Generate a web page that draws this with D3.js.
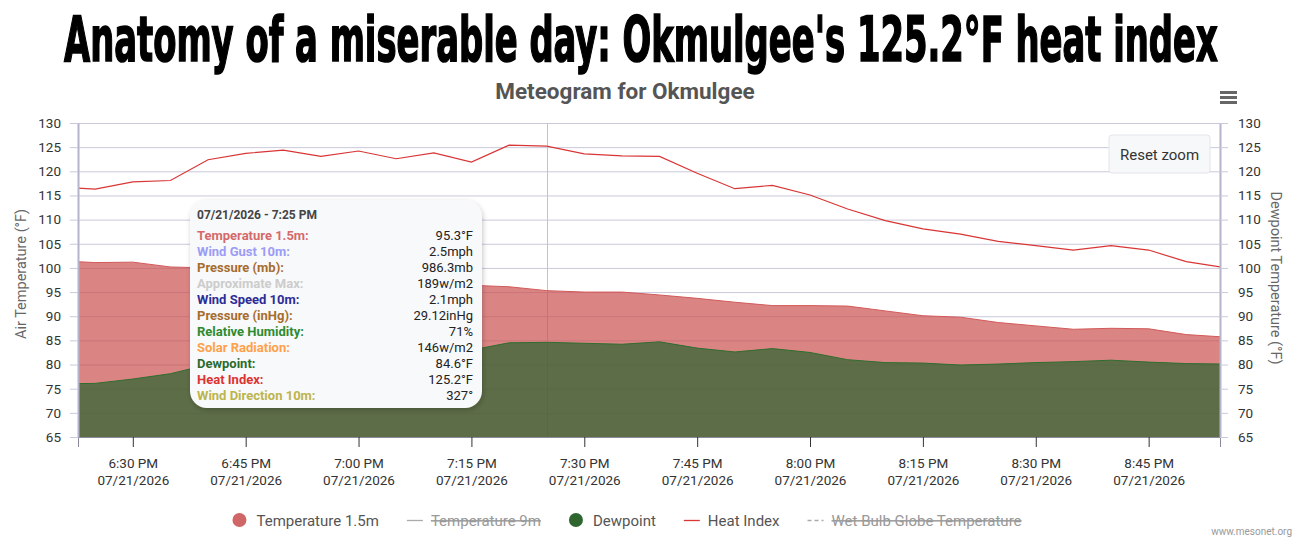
<!DOCTYPE html>
<html>
<head>
<meta charset="utf-8">
<script src="https://d3js.org/d3.v7.min.js"></script>
<style>
  html, body { margin: 0; padding: 0; background: #fff; }
  svg { display: block; font-family: Roboto, "Noto Sans", sans-serif; }
</style>
</head>
<body>
<div id="chart"></div>
<script>
// Data (5 minute obs, 07/21/2026)
const times = ["18:20","18:25","18:30","18:35","18:40","18:45","18:50","18:55",
               "19:00","19:05","19:10","19:15","19:20","19:25","19:30","19:35",
               "19:40","19:45","19:50","19:55","20:00","20:05","20:10","20:15",
               "20:20","20:25","20:30","20:35","20:40","20:45","20:50","20:55"];
const temperature = [101.5,101.1,101.2,100.2,100.0,99.6,99.1,98.6,
                     98.0,97.5,97.0,96.4,96.1,95.3,95.0,95.0,
                     94.4,93.7,92.9,92.2,92.2,92.1,91.1,90.1,
                     89.8,88.7,88.0,87.3,87.5,87.4,86.2,85.7];
const dewpoint = [76.0,76.1,77.0,78.1,80.0,80.8,81.3,81.0,
                  81.6,81.5,82.2,83.0,84.5,84.6,84.4,84.2,
                  84.7,83.4,82.6,83.3,82.5,81.0,80.4,80.3,
                  79.9,80.1,80.4,80.6,80.9,80.5,80.2,80.1];
const heatIndex = [116.8,116.3,117.8,118.1,122.4,123.7,124.4,123.1,
                   124.2,122.6,123.8,121.9,125.4,125.2,123.6,123.2,
                   123.1,119.6,116.4,117.1,115.1,112.2,109.8,108.1,
                   107.0,105.5,104.6,103.7,104.6,103.7,101.3,100.1];
const yTicks = [65,70,75,80,85,90,95,100,105,110,115,120,125,130];

// Tooltip contents at 7:25 PM
const tipTime = "19:25";
const tipLabels = ["Temperature 1.5m:","Wind Gust 10m:","Pressure (mb):","Approximate Max:",
                   "Wind Speed 10m:","Pressure (inHg):","Relative Humidity:","Solar Radiation:",
                   "Dewpoint:","Heat Index:","Wind Direction 10m:"];
const tipValues = ["95.3°F","2.5mph","986.3mb","189w/m2","2.1mph","29.12inHg","71%",
                   "146w/m2","84.6°F","125.2°F","327°"];
const tipColors = ["#d46a6a","#9c9cf5","#a66d2e","#cccccc","#2d2d96","#a66d2e","#2f8a2f",
                   "#ffa04a","#2d6a2d","#dd3333","#bdb44e"];

// Legend
const legendNames = ["Temperature 1.5m","Temperature 9m","Dewpoint","Heat Index","Wet Bulb Globe Temperature"];

const width = 1306, height = 539;
const margin = { top: 123, right: 86, bottom: 102, left: 78 };

const parse = t => { const [h, m] = t.split(":").map(Number); return new Date(2026, 6, 21, h, m); };
const data = times.map((t, i) => ({ t: parse(t), temp: temperature[i], dew: dewpoint[i], hi: heatIndex[i] }));

const svg = d3.select("#chart").append("svg")
    .attr("width", width)
    .attr("height", height);
const defs = svg.append("defs");

// Zoomed window (6:22:43 PM to 8:54:29 PM)
const x = d3.scaleTime()
    .domain([new Date(2026, 6, 21, 18, 22, 43), new Date(2026, 6, 21, 20, 54, 29)])
    .range([margin.left, width - margin.right]);
const y = d3.scaleLinear()
    .domain([65, 130])
    .range([height - margin.bottom, margin.top]);

// Headline: condensed heavy face, stretched to fill the width
const title = svg.append("text")
    .attr("font-family", "Impact, 'Liberation Sans Narrow', 'DejaVu Sans Condensed', sans-serif")
    .attr("font-weight", "bold")
    .attr("font-size", 58)
    .attr("fill", "#000")
    .attr("stroke", "#000")
    .attr("stroke-width", 1.5)
    .text("Anatomy of a miserable day: Okmulgee's 125.2°F heat index");
const tw = title.node().getComputedTextLength();
title.attr("transform", `translate(64,61) scale(${1154 / tw},1.08)`);

svg.append("text")
    .attr("x", 625).attr("y", 99)
    .attr("text-anchor", "middle")
    .attr("font-weight", "bold")
    .attr("font-size", 22.5)
    .attr("fill", "#555")
    .text("Meteogram for Okmulgee");

// hamburger menu
svg.append("g").attr("fill", "#666")
  .selectAll("rect").data([0, 1, 2]).join("rect")
    .attr("x", 1220).attr("y", d => 91 + d * 5)
    .attr("width", 17).attr("height", 3);

// Grid
svg.append("g")
  .selectAll("line").data(yTicks).join("line")
    .attr("x1", margin.left).attr("x2", width - margin.right)
    .attr("y1", d => y(d) + 0.5).attr("y2", d => y(d) + 0.5)
    .attr("stroke", "#c9c9dc");

// Crosshair at hovered point (under the translucent areas)
const tipDate = parse(tipTime);
svg.append("line")
    .attr("x1", Math.round(x(tipDate)) + 0.5).attr("x2", Math.round(x(tipDate)) + 0.5)
    .attr("y1", margin.top).attr("y2", height - margin.bottom)
    .attr("stroke", "#c4c4c4");

defs.append("clipPath").attr("id", "plot")
  .append("rect")
    .attr("x", margin.left).attr("y", margin.top)
    .attr("width", width - margin.left - margin.right)
    .attr("height", height - margin.top - margin.bottom);

const series = svg.append("g").attr("clip-path", "url(#plot)");

const tempArea = d3.area().x(d => x(d.t)).y0(y(65)).y1(d => y(d.temp));
const dewArea = d3.area().x(d => x(d.t)).y0(y(65)).y1(d => y(d.dew));

series.append("path").datum(data)
    .attr("d", tempArea)
    .attr("fill", "#cc5050").attr("fill-opacity", 0.7);
series.append("path").datum(data)
    .attr("d", d3.line().x(d => x(d.t)).y(d => y(d.temp)))
    .attr("fill", "none").attr("stroke", "#d25a5a").attr("stroke-width", 1);

series.append("path").datum(data)
    .attr("d", dewArea)
    .attr("fill", "#336633").attr("fill-opacity", 0.75);
series.append("path").datum(data)
    .attr("d", d3.line().x(d => x(d.t)).y(d => y(d.dew)))
    .attr("fill", "none").attr("stroke", "#2e6e2e").attr("stroke-width", 1);

series.append("path").datum(data)
    .attr("d", d3.line().x(d => x(d.t)).y(d => y(d.hi)))
    .attr("fill", "none").attr("stroke", "#d93535").attr("stroke-width", 1.2);

// Axes
const fmtTime = d3.timeFormat("%-I:%M %p");
const fmtDate = d3.timeFormat("%m/%d/%Y");

const xAxis = svg.append("g")
    .attr("transform", `translate(0,${height - margin.bottom})`)
    .call(d3.axisBottom(x).ticks(d3.timeMinute.every(15)).tickSize(10).tickFormat(""));
xAxis.select(".domain").attr("stroke", "#8a8a9a").attr("stroke-width", 1);
xAxis.selectAll(".tick line").attr("stroke", "#333");
xAxis.selectAll(".tick text").remove();
xAxis.selectAll(".tick").append("text")
    .attr("fill", "#333").attr("font-size", 13.5).attr("text-anchor", "middle")
    .attr("font-family", "Roboto, sans-serif")
    .call(t => t.append("tspan").attr("x", 0).attr("y", 31).text(d => fmtTime(d)))
    .call(t => t.append("tspan").attr("x", 0).attr("y", 48).text(d => fmtDate(d)));

const yLeft = svg.append("g")
    .attr("transform", `translate(${margin.left},0)`)
    .call(d3.axisLeft(y).tickValues(yTicks).tickSize(8).tickPadding(9).tickSizeOuter(0));
const yRight = svg.append("g")
    .attr("transform", `translate(${width - margin.right},0)`)
    .call(d3.axisRight(y).tickValues(yTicks).tickSize(8).tickPadding(10).tickSizeOuter(0));
[yLeft, yRight].forEach(a => {
    a.select(".domain").attr("stroke", "#b4b4cc").attr("stroke-width", 2);
    a.selectAll(".tick line").attr("stroke", "#c9c9dc");
    a.selectAll(".tick text").attr("fill", "#333").attr("font-size", 13.5)
        .attr("font-family", "Roboto, sans-serif");
});

svg.append("text")
    .attr("transform", "translate(26,274) rotate(-90)")
    .attr("text-anchor", "middle").attr("font-size", 14.5).attr("fill", "#666")
    .text("Air Temperature (°F)");
svg.append("text")
    .attr("transform", "translate(1271,278) rotate(90)")
    .attr("text-anchor", "middle").attr("font-size", 14.5).attr("fill", "#666")
    .text("Dewpoint Temperature (°F)");

// Reset zoom button
const btn = svg.append("g").attr("transform", "translate(1109,135)");
btn.append("rect")
    .attr("width", 101).attr("height", 38).attr("rx", 3)
    .attr("fill", "#f7f8fa").attr("stroke", "#e2e4ea");
btn.append("text")
    .attr("x", 50.5).attr("y", 24.5).attr("text-anchor", "middle")
    .attr("font-size", 15).attr("fill", "#333")
    .text("Reset zoom");

// Tooltip
const shadow = defs.append("filter").attr("id", "shadow")
    .attr("x", "-10%").attr("y", "-10%").attr("width", "120%").attr("height", "125%");
shadow.append("feDropShadow")
    .attr("dx", 1).attr("dy", 2).attr("stdDeviation", 2.5)
    .attr("flood-color", "#000").attr("flood-opacity", 0.22);

const tip = svg.append("g").attr("transform", "translate(190,200)");
tip.append("rect")
    .attr("width", 292).attr("height", 208).attr("rx", 17)
    .attr("fill", "#f8f9fa").attr("filter", "url(#shadow)");
tip.append("text")
    .attr("x", 7).attr("y", 19)
    .attr("font-size", 12).attr("font-weight", "bold").attr("fill", "#444")
    .text(d3.timeFormat("%m/%d/%Y - %-I:%M %p")(tipDate));
const rows = tip.selectAll("g.row").data(tipLabels).join("g")
    .attr("class", "row")
    .attr("transform", (d, i) => `translate(0,${40 + i * 16})`);
rows.append("text")
    .attr("x", 7).attr("font-size", 13).attr("font-weight", "bold")
    .attr("fill", (d, i) => tipColors[i])
    .text(d => d);
rows.append("text")
    .attr("x", 283).attr("text-anchor", "end").attr("font-size", 13).attr("fill", "#222")
    .text((d, i) => tipValues[i]);

// Legend (items 9m and wet bulb are switched off)
const legend = svg.append("g").attr("font-size", 15);
const items = legend.selectAll("g").data(legendNames).join("g");
items.append("text")
    .attr("x", 24).attr("y", 5.5)
    .attr("fill", (d, i) => (i === 1 || i === 4) ? "#999" : "#555")
    .attr("text-decoration", (d, i) => (i === 1 || i === 4) ? "line-through" : null)
    .text(d => d);
items.each(function(d, i) {
    const g = d3.select(this);
    if (i === 0 || i === 2) {
        g.append("circle").attr("cx", 7).attr("cy", 0).attr("r", 7)
            .attr("fill", i === 0 ? "#d06666" : "#2f6630");
    } else {
        g.append("line").attr("x1", 0).attr("x2", 16).attr("y1", 0.5).attr("y2", 0.5)
            .attr("stroke", i === 3 ? "#d93535" : "#aaa").attr("stroke-width", 1.3)
            .attr("stroke-dasharray", i === 4 ? "4,3" : null);
    }
});
const gap = 28;
let lx = 0;
const offsets = [];
items.each(function() {
    offsets.push(lx);
    lx += 24 + this.querySelector("text").getComputedTextLength() + gap;
});
const legendWidth = lx - gap;
const legendStart = 627 - legendWidth / 2;
items.attr("transform", (d, i) => `translate(${legendStart + offsets[i]},520)`);

// Credit
svg.append("text")
    .attr("x", 1292).attr("y", 535)
    .attr("text-anchor", "end").attr("font-size", 10).attr("fill", "#999")
    .text("www.mesonet.org");
</script>
</body>
</html>
